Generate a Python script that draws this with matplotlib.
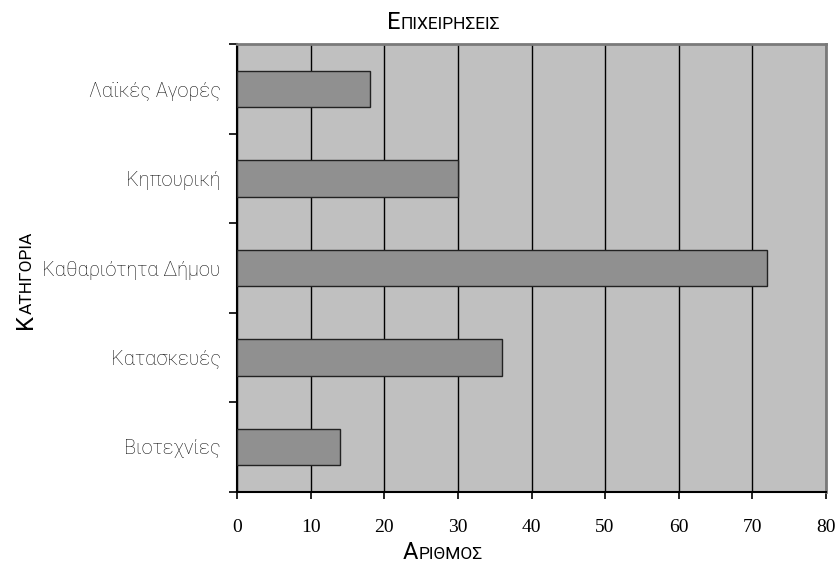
import matplotlib
matplotlib.use("Agg")
import matplotlib.pyplot as plt

# data
categories = ["Λαϊκές Αγορές", "Κηπουρική", "Καθαριότητα Δήμου", "Κατασκευές", "Βιοτεχνίες"]
counts = [18, 30, 72, 36, 14]
xticks = [0, 10, 20, 30, 40, 50, 60, 70, 80]

label_font = "Roboto"

fig = plt.figure(figsize=(8.39, 5.65), dpi=100)
ax = fig.add_axes([237.3 / 839, 1 - 491.7 / 565, (825.7 - 237.3) / 839, (491.7 - 44.3) / 565])
ax.set_facecolor("#c0c0c0")

ypos = list(range(len(categories)))
ax.barh(ypos, counts, height=0.41, color="#909090", edgecolor="#222222", linewidth=1.0, zorder=3)
ax.set_ylim(len(categories) - 0.5, -0.5)
ax.set_xlim(0, 80)

# vertical gridlines
ax.set_xticks(xticks)
ax.xaxis.grid(True, color="black", linewidth=1.0, zorder=1)
ax.set_axisbelow(True)

# category labels at centre, ticks on the boundaries
ax.set_yticks(ypos)
ax.set_yticklabels(categories, family=label_font, fontweight="light", fontsize=14.4,
                   color="#111111")
ax.set_yticks([i - 0.5 for i in range(len(categories) + 1)], minor=True)
ax.tick_params(axis="y", which="major", length=0, pad=12)
ax.tick_params(axis="y", which="minor", length=6, width=1.2, direction="out")
ax.tick_params(axis="x", length=5, width=1.2, direction="out", pad=15)
for lab in ax.get_xticklabels():
    lab.set_family("Liberation Serif")
    lab.set_fontsize(14)

for side in ["top", "right"]:
    ax.spines[side].set_color("#7a7a7a")
    ax.spines[side].set_linewidth(2.0)
for side in ["left", "bottom"]:
    ax.spines[side].set_color("black")
    ax.spines[side].set_linewidth(1.5)


def small_caps(x, y, word, big, small, rotation=0):
    # first letter full size, the rest as smaller capitals, placed in pixels
    first = fig.text(x, y, word[0], fontsize=big, family=label_font, fontweight="normal",
                     color="black", ha="left", va="baseline", rotation=rotation,
                     rotation_mode="anchor")
    fig.canvas.draw()
    bb = first.get_window_extent().transformed(fig.transFigure.inverted())
    if rotation == 90:
        fig.text(x, bb.y1, word[1:].upper(), fontsize=small, family=label_font,
                 fontweight="normal", color="black", ha="left", va="baseline",
                 rotation=90, rotation_mode="anchor")
    else:
        fig.text(bb.x1, y, word[1:].upper(), fontsize=small, family=label_font,
                 fontweight="normal", color="black", ha="left", va="baseline")


small_caps(387 / 839, 1 - 29 / 565, "Επιχειρησεις", 17, 12.5)
small_caps(403 / 839, 1 - 559 / 565, "Αριθμος", 17, 12.5)
small_caps(32 / 839, 1 - 329 / 565, "Κατηγορια", 17, 12.5, rotation=90)

fig.savefig("out.png", dpi=100)
